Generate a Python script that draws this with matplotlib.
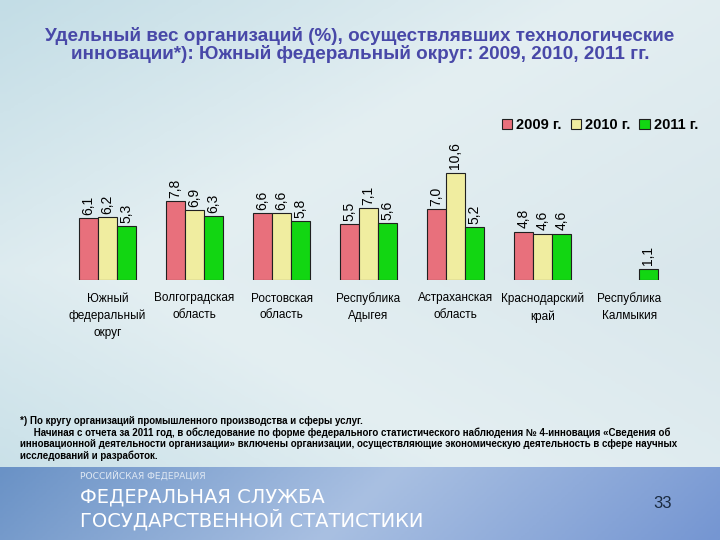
import numpy as np
import matplotlib.pyplot as plt
from matplotlib.colors import LinearSegmentedColormap

plt.rcParams['font.family'] = ['Liberation Sans', 'DejaVu Sans']

regions = ['Южный\nфедеральный\nокруг', 'Волгоградская\nобласть', 'Ростовская\nобласть',
           'Республика\nАдыгея', 'Астраханская\nобласть', 'Краснодарский\nкрай',
           'Республика\nКалмыкия']
y2009 = [6.1, 7.8, 6.6, 5.5, 7.0, 4.8, np.nan]
y2010 = [6.2, 6.9, 6.6, 7.1, 10.6, 4.6, np.nan]
y2011 = [5.3, 6.3, 5.8, 5.6, 5.2, 4.6, 1.1]
years = ['2009 г.', '2010 г.', '2011 г.']
colors = ['#e8707c', '#f0eda0', '#12d612']

notes = ['*) По кругу организаций промышленного производства и сферы услуг.',
         '     Начиная с отчета за 2011 год, в обследование по форме федерального статистического наблюдения № 4-инновация «Сведения об',
         'инновационной деятельности организации» включены организации, осуществляющие экономическую деятельность в сфере научных',
         'исследований и разработок.']

W, H = 720, 540
fig = plt.figure(figsize=(7.2, 5.4), dpi=100)

# slide background
bg = fig.add_axes([0, 0, 1, 1])
bg.set_axis_off()
gx = np.linspace(0, 1, 200)
gy = np.linspace(0, 1, 200)
X, Y = np.meshgrid(gx, gy)
cm_bg = LinearSegmentedColormap.from_list('bg', ['#c3dde6', '#e4eff2', '#d9e7ec'])
bg.imshow(0.6 * X + 0.4 * (1 - np.abs(Y - 0.5) * 2), cmap=cm_bg, extent=(0, W, H, 0),
          aspect='auto', zorder=0)
cm_ft = LinearSegmentedColormap.from_list('ft', ['#6a92c6', '#a9c0e2', '#7596d2'])
bg.imshow(0.7 * X[:50] + 0.3 * Y[:50], cmap=cm_ft, extent=(0, W, H, 467),
          aspect='auto', zorder=1)
bg.set_xlim(0, W)
bg.set_ylim(H, 0)

fig.text(0.5, 1 - 45 / H, 'Удельный вес организаций (%), осуществлявших технологические\n'
         'инновации*): Южный федеральный округ: 2009, 2010, 2011 гг.',
         ha='center', va='center', fontsize=13.6, fontweight='bold', color='#4848a8',
         linespacing=0.95)

# chart
ax = fig.add_axes([64 / W, 1 - 280 / H, 609 / W, 121.2 / H])
ax.patch.set_alpha(0)
x = np.arange(len(regions))
w = 0.218
for k, (vals, c, lab) in enumerate(zip([y2009, y2010, y2011], colors, years)):
    pos = x + (k - 1) * w
    ax.bar(pos, vals, w, color=c, edgecolor='#202020', linewidth=0.8, label=lab)
    for p, v in zip(pos, vals):
        if not np.isnan(v):
            ax.text(p, v + 0.35, f'{v:.1f}'.replace('.', ','), rotation=90,
                    ha='center', va='bottom', fontsize=10, color='black')
ax.set_xlim(-0.5, len(regions) - 0.5)
ax.set_ylim(0, 12)
ax.set_xticks(x)
ax.set_xticklabels(regions, fontsize=8.5, linespacing=1.55)
ax.tick_params(axis='x', length=0, pad=9)
ax.set_yticks([])
for s in ax.spines.values():
    s.set_visible(False)

fig.legend(loc='center', bbox_to_anchor=(600 / W, 1 - 125 / H), ncol=3, frameon=False,
           handlelength=0.7, handleheight=0.7, handletextpad=0.3,
           columnspacing=0.6, prop={'weight': 'bold', 'size': 10.5})

for i, line in enumerate(notes):
    fig.text(20 / W, 1 - (421 + 11.7 * i) / H, line, fontsize=7, fontweight='bold',
             va='center')

fig.text(80 / W, 1 - 476 / H, 'РОССИЙСКАЯ ФЕДЕРАЦИЯ', fontsize=6.6, color='#dfe8f3',
         va='center', family=['DejaVu Sans'])
fig.text(80 / W, 1 - 497 / H, 'ФЕДЕРАЛЬНАЯ СЛУЖБА', fontsize=14, color='white',
         va='center', family=['DejaVu Sans'])
fig.text(80 / W, 1 - 520 / H, 'ГОСУДАРСТВЕННОЙ СТАТИСТИКИ', fontsize=14, color='white',
         va='center', family=['DejaVu Sans'])
fig.text(663 / W, 1 - 504 / H, '33', fontsize=12, color='#1a2a40', ha='center', va='center',
         family=['Liberation Sans'])

fig.savefig('out.png', dpi=100)
